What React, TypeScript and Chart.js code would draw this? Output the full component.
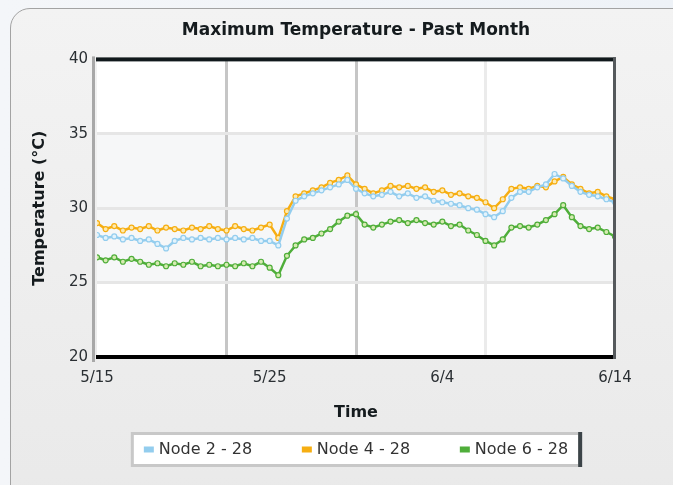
import React, { useEffect, useRef } from "react";
import { Chart, registerables } from "chart.js";

Chart.register(...registerables);

const TITLE = "Maximum Temperature - Past Month";
const X_TITLE = "Time";
const Y_TITLE = "Temperature (°C)";
const xTickLabels = ["5/15", "5/25", "6/4", "6/14"];
const seriesNames = ["Node 2 - 28", "Node 4 - 28", "Node 6 - 28"];
const seriesColors = ["#93cdee", "#f6ae12", "#4fae3a"];
const pointFills = ["#e3f3fc", "#fdeab0", "#d6ebb2"];

// two readings per day, 5/15 .. 6/14
const node2 = [
  28.2, 28.0, 28.1, 27.9, 28.0, 27.8, 27.9, 27.6, 27.3, 27.8,
  28.0, 27.9, 28.0, 27.9, 28.0, 27.9, 28.0, 27.9, 28.0, 27.8,
  27.8, 27.5, 29.3, 30.5, 30.8, 31.0, 31.2, 31.4, 31.6, 31.9,
  31.3, 31.0, 30.8, 30.9, 31.1, 30.8, 31.0, 30.7, 30.8, 30.5,
  30.4, 30.3, 30.2, 30.0, 29.9, 29.6, 29.4, 29.8, 30.7, 31.1,
  31.1, 31.4, 31.6, 32.3, 32.0, 31.5, 31.1, 30.9, 30.8, 30.6,
  30.4,
];
const node4 = [
  29.0, 28.6, 28.8, 28.5, 28.7, 28.6, 28.8, 28.5, 28.7, 28.6,
  28.5, 28.7, 28.6, 28.8, 28.6, 28.5, 28.8, 28.6, 28.5, 28.7,
  28.9, 28.0, 29.8, 30.8, 31.0, 31.2, 31.4, 31.7, 31.9, 32.2,
  31.6, 31.3, 31.0, 31.2, 31.5, 31.4, 31.5, 31.3, 31.4, 31.1,
  31.2, 30.9, 31.0, 30.8, 30.7, 30.4, 30.0, 30.6, 31.3, 31.4,
  31.3, 31.5, 31.4, 31.8, 32.1, 31.6, 31.3, 31.0, 31.1, 30.8,
  30.6,
];
const node6 = [
  26.7, 26.5, 26.7, 26.4, 26.6, 26.4, 26.2, 26.3, 26.1, 26.3,
  26.2, 26.4, 26.1, 26.2, 26.1, 26.2, 26.1, 26.3, 26.1, 26.4,
  26.0, 25.5, 26.8, 27.5, 27.9, 28.0, 28.3, 28.6, 29.1, 29.5,
  29.6, 28.9, 28.7, 28.9, 29.1, 29.2, 29.0, 29.2, 29.0, 28.9,
  29.1, 28.8, 28.9, 28.5, 28.2, 27.8, 27.5, 27.9, 28.7, 28.8,
  28.7, 28.9, 29.2, 29.6, 30.2, 29.4, 28.8, 28.6, 28.7, 28.4,
  28.1,
];
const seriesValues = [node2, node4, node6];

const FONT = "'DejaVu Sans', sans-serif";

const framePlugin = {
  id: "frame",
  beforeDraw(chart: any) {
    const { ctx, chartArea: a, scales } = chart;
    ctx.save();
    ctx.fillStyle = "#ffffff";
    ctx.fillRect(a.left, a.top, a.right - a.left, a.bottom - a.top);
    const y35 = scales.y.getPixelForValue(35);
    const y25 = scales.y.getPixelForValue(25);
    ctx.fillStyle = "#f6f7f8";
    ctx.fillRect(a.left, y35, a.right - a.left, y25 - y35);
    ctx.restore();
  },
  afterDatasetsDraw(chart: any) {
    const { ctx, chartArea: a } = chart;
    ctx.save();
    ctx.fillStyle = "#a8a8a8";
    ctx.fillRect(a.left - 5, a.top - 3, 3, a.bottom - a.top + 8);
    ctx.fillStyle = "#11191c";
    ctx.fillRect(a.left - 1, a.top - 2, a.right - a.left + 2, 4);
    ctx.fillStyle = "#000000";
    ctx.fillRect(a.left - 1, a.bottom - 2, a.right - a.left + 2, 4);
    ctx.fillStyle = "#55595c";
    ctx.fillRect(a.right - 2, a.top - 2, 3, a.bottom - a.top + 4);
    ctx.restore();
  },
  afterDraw(chart: any) {
    // boxed legend below the x axis
    const { ctx, chartArea: a, scales } = chart;
    const cx = (a.left + a.right) / 2;
    const top = scales.x.bottom + 1;
    const boxH = 35;
    ctx.save();
    ctx.font = `16px ${FONT}`;
    const widths = seriesNames.map((n) => ctx.measureText(n).width);
    const itemW = widths.map((w) => 15 + w);
    const gap = 158 - itemW[0];
    const total = itemW.reduce((s, w) => s + w, 0) + gap * (itemW.length - 1);
    let x = cx - total / 2;
    const l = x - 13;
    const r = x + total + 13;
    ctx.fillStyle = "#c8c8c8";
    ctx.fillRect(l, top, r - l, boxH);
    ctx.fillStyle = "#ffffff";
    ctx.fillRect(l + 3, top + 3, r - l - 6, boxH - 6);
    ctx.fillStyle = "#3c4448";
    ctx.fillRect(r - 3, top, 4, boxH);
    const cy = top + boxH / 2;
    ctx.textBaseline = "middle";
    ctx.textAlign = "left";
    seriesNames.forEach((n, i) => {
      ctx.fillStyle = seriesColors[i];
      ctx.fillRect(x, cy - 3, 10, 6);
      ctx.fillStyle = "#333";
      ctx.fillText(n, x + 15, cy);
      x += itemW[i] + gap;
    });
    ctx.restore();
  },
};

export default function App() {
  const ref = useRef<HTMLCanvasElement | null>(null);

  useEffect(() => {
    if (!ref.current) return;
    const datasets = seriesNames.map((name, s) => ({
      label: name,
      data: seriesValues[s].map((v, i) => ({ x: i, y: v })),
      borderColor: seriesColors[s],
      backgroundColor: seriesColors[s],
      borderWidth: 2.5,
      pointRadius: 2.5,
      pointBorderWidth: 1.2,
      pointBackgroundColor: pointFills[s],
      pointBorderColor: seriesColors[s],
      tension: 0,
      fill: false,
    }));
    const chart = new Chart(ref.current, {
      type: "line",
      data: { datasets },
      plugins: [framePlugin],
      options: {
        animation: false,
        responsive: false,
        devicePixelRatio: 1,
        layout: { padding: { top: 20, left: 24, right: 58, bottom: 54 } },
        plugins: {
          title: {
            display: true,
            text: TITLE,
            fullSize: false,
            color: "#151b1e",
            font: { family: FONT, size: 17, weight: "bold" },
            padding: { top: 0, bottom: 19 },
          },
          legend: { display: false },
          tooltip: { enabled: false },
        },
        scales: {
          x: {
            type: "linear",
            position: "bottom",
            min: 0,
            max: 60,
            afterBuildTicks: (scale: any) => {
              scale.ticks = xTickLabels.map((_, i) => ({ value: i * 20 }));
            },
            afterFit: (scale: any) => {
              scale.height = 74;
            },
            grid: { display: false, drawTicks: false },
            border: { display: false },
            ticks: {
              padding: 12,
              maxRotation: 0,
              color: "#2a2f33",
              font: { family: FONT, size: 15 },
              callback: (v: any) => xTickLabels[Math.round(Number(v) / 20)] ?? "",
            },
            title: {
              display: true,
              text: X_TITLE,
              color: "#151b1e",
              font: { family: FONT, size: 16, weight: "bold" },
              padding: { top: 0, bottom: 9 },
            },
          },
          x2: {
            type: "linear",
            position: "top",
            min: 0,
            max: 60,
            afterBuildTicks: (scale: any) => {
              scale.ticks = [15, 30, 45].map((v) => ({ value: v }));
            },
            afterFit: (scale: any) => {
              scale.height = 0;
            },
            ticks: { display: false },
            border: { display: false },
            grid: {
              drawTicks: false,
              lineWidth: 3,
              color: (ctx: any) =>
                ctx.tick && ctx.tick.value === 45 ? "#ebebeb" : "#c6c6c6",
            },
          },
          y: {
            min: 20,
            max: 40,
            afterFit: (scale: any) => {
              scale.width = 73;
            },
            ticks: {
              stepSize: 5,
              padding: 9,
              color: "#2a2f33",
              font: { family: FONT, size: 15 },
            },
            border: { display: false },
            grid: {
              drawTicks: false,
              lineWidth: 3,
              color: (ctx: any) =>
                ctx.tick && (ctx.tick.value === 20 || ctx.tick.value === 40)
                  ? "rgba(0,0,0,0)"
                  : "#e6e6e6",
            },
            title: {
              display: true,
              text: Y_TITLE,
              color: "#151b1e",
              font: { family: FONT, size: 16, weight: "bold" },
              padding: { top: 6, bottom: 0 },
            },
          },
        },
      } as any,
    });
    return () => chart.destroy();
  }, []);

  return (
    <div
      style={{
        position: "fixed",
        left: 0,
        top: 0,
        width: 673,
        height: 485,
        overflow: "hidden",
        background: "linear-gradient(90deg, #f4f6f9 0%, #eef2f7 100%)",
      }}
    >
      <div
        style={{
          position: "absolute",
          left: 10,
          top: 8,
          width: 720,
          height: 520,
          borderRadius: 20,
          border: "1px solid #a3a3a3",
          background: "linear-gradient(180deg, #f3f3f3 0%, #e9e9e9 100%)",
          boxSizing: "border-box",
        }}
      />
      <canvas
        ref={ref}
        width={673}
        height={485}
        style={{ position: "absolute", left: 0, top: 0, width: 673, height: 485 }}
      />
    </div>
  );
}
